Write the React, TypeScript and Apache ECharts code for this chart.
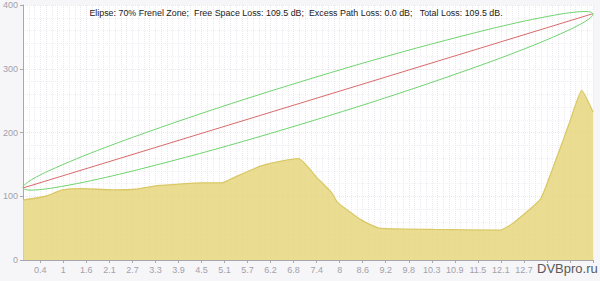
import React, { useEffect, useRef } from "react";
import * as echarts from "echarts";

// Terrain profile (distance km, height m)
const terrainDist = [0, 0.57, 1.0, 1.5, 2.26, 2.84, 3.44, 3.94, 4.52, 5.03, 5.36, 5.95, 6.28, 6.97, 7.45, 7.8, 7.96, 8.55, 9.0, 10.39, 12.07, 12.4, 13.08, 13.41, 13.66, 13.84, 14.13, 14.415];
const terrainHeight = [94, 100, 110, 112, 110, 111, 117, 119, 121, 121, 130, 146, 152, 159, 128, 106, 90, 63, 50, 48, 47, 58, 95, 146, 188, 219, 266, 232];

// Line of sight
const losDist = [0, 14.415];
const losHeight = [113, 386.4];

// Fresnel ellipse, upper edge
const upperDist = [0, 0.015, 0.114, 0.313, 0.655, 1.351, 2.055, 2.762, 4.186, 5.618, 7.057, 8.501, 9.952, 11.411, 12.145, 12.883, 13.628, 14.008, 14.241, 14.372, 14.415];
const upperHeight = [113, 116.3, 121.8, 129.4, 140.0, 158.7, 175.9, 192.2, 223.1, 252.4, 280.3, 307.1, 332.5, 356.2, 367.3, 377.4, 386.1, 389.1, 389.8, 388.6, 386.4];
// Fresnel ellipse, lower edge
const lowerDist = [0, 0.042, 0.174, 0.408, 0.787, 1.532, 2.27, 3.004, 4.463, 5.914, 7.358, 8.797, 10.229, 11.653, 12.361, 13.064, 13.76, 14.102, 14.301, 14.4, 14.415];
const lowerHeight = [113, 110.8, 109.6, 110.3, 113.3, 122.0, 132.1, 143.2, 166.9, 192.3, 219.1, 247.0, 276.3, 307.2, 323.5, 340.7, 359.4, 370.0, 377.6, 383.1, 386.4];

// X tick labels (every 4th fine grid step, starting at step 3)
const tickLabels = ["0.4", "1", "1.6", "2.1", "2.7", "3.3", "3.9", "4.5", "5.1", "5.7", "6.2", "6.8", "7.4", "8", "8.6", "9.2", "9.8", "10.3", "10.9", "11.5", "12.1", "12.7"];
const fineSteps = 100;
const totalDistance = 14.415;

const yTicks = [0, 100, 200, 300, 400];

const titleText = "Elipse: 70% Frenel Zone;  Free Space Loss: 109.5 dB;  Excess Path Loss: 0.0 dB;   Total Loss: 109.5 dB.";
const watermark = "DVBpro.ru";

const zip = (a: number[], b: number[]) => a.map((v, i) => [v, b[i]]);

export default function App() {
  const ref = useRef<HTMLDivElement>(null);
  useEffect(() => {
    document.body.style.margin = "0";
    if (!ref.current) return;
    const chart = echarts.init(ref.current, undefined, { renderer: "svg" });
    const categories = Array.from({ length: fineSteps }, (_, i) =>
      i % 4 === 3 && tickLabels[(i - 3) / 4] ? tickLabels[(i - 3) / 4] : ""
    );
    const tickFn = (i: number) => i % 4 === 3;
    const font = "Liberation Sans";
    chart.setOption({
      animation: false,
      backgroundColor: "#f6f5f8",
      grid: {
        left: 20,
        right: 7,
        top: 5,
        bottom: 21,
        show: true,
        backgroundColor: "#ffffff",
        borderWidth: 0,
      },
      xAxis: [
        {
          type: "category",
          data: categories,
          boundaryGap: false,
          axisLine: { lineStyle: { color: "#a9a7ae", width: 1 } },
          axisTick: { interval: tickFn, length: 3, lineStyle: { color: "#a9a7ae" } },
          axisLabel: { interval: tickFn, color: "#a3a1aa", fontSize: 9, fontFamily: font, margin: 5 },
          splitLine: { show: true, interval: 0, lineStyle: { color: "#ebe9ef", type: "dotted", width: 1 } },
        },
        {
          type: "value",
          show: false,
          min: 0,
          max: totalDistance,
        },
      ],
      yAxis: {
        type: "value",
        min: yTicks[0],
        max: yTicks[yTicks.length - 1],
        interval: 100,
        axisLine: { show: true, lineStyle: { color: "#a9a7ae" } },
        axisTick: { show: true, length: 3, lineStyle: { color: "#a9a7ae" } },
        axisLabel: { color: "#a3a1aa", fontSize: 9, fontFamily: font, margin: 5 },
        splitLine: { show: true, lineStyle: { color: "#ebe9ef", type: "dotted" } },
        minorSplitLine: { show: true, lineStyle: { color: "#f1f0f4", type: "dotted" } },
        minorTick: { show: false, splitNumber: 5 },
      },
      series: [
        {
          type: "line",
          xAxisIndex: 1,
          data: zip(terrainDist, terrainHeight),
          symbol: "none",
          smooth: 0.15,
          lineStyle: { color: "#d9c865", width: 1.3 },
          areaStyle: { color: "#e6d77f", opacity: 0.85 },
          z: 2,
        },
        {
          type: "line",
          xAxisIndex: 1,
          data: zip(losDist, losHeight),
          symbol: "none",
          lineStyle: { color: "#d96a6a", width: 1 },
          z: 3,
        },
        {
          type: "line",
          xAxisIndex: 1,
          data: zip(upperDist, upperHeight),
          symbol: "none",
          smooth: 0.3,
          lineStyle: { color: "#6fd36f", width: 1 },
          z: 3,
        },
        {
          type: "line",
          xAxisIndex: 1,
          data: zip(lowerDist, lowerHeight),
          symbol: "none",
          smooth: 0.3,
          lineStyle: { color: "#6fd36f", width: 1 },
          z: 3,
        },
      ],
      graphic: [
        {
          type: "text",
          x: 296,
          y: 13,
          style: {
            text: titleText,
            fill: "#222222",
            font: `8.9px ${font}`,
            align: "center",
            verticalAlign: "middle",
          },
          z: 10,
        },
        {
          type: "text",
          x: 537,
          y: 268,
          style: {
            text: watermark,
            fill: "#5a5a5a",
            font: `13px ${font}`,
            align: "left",
            verticalAlign: "middle",
          },
          z: 10,
        },
      ],
    });
    return () => chart.dispose();
  }, []);
  return <div ref={ref} style={{ position: "fixed", left: 0, top: 0, width: 600, height: 281 }} />;
}
